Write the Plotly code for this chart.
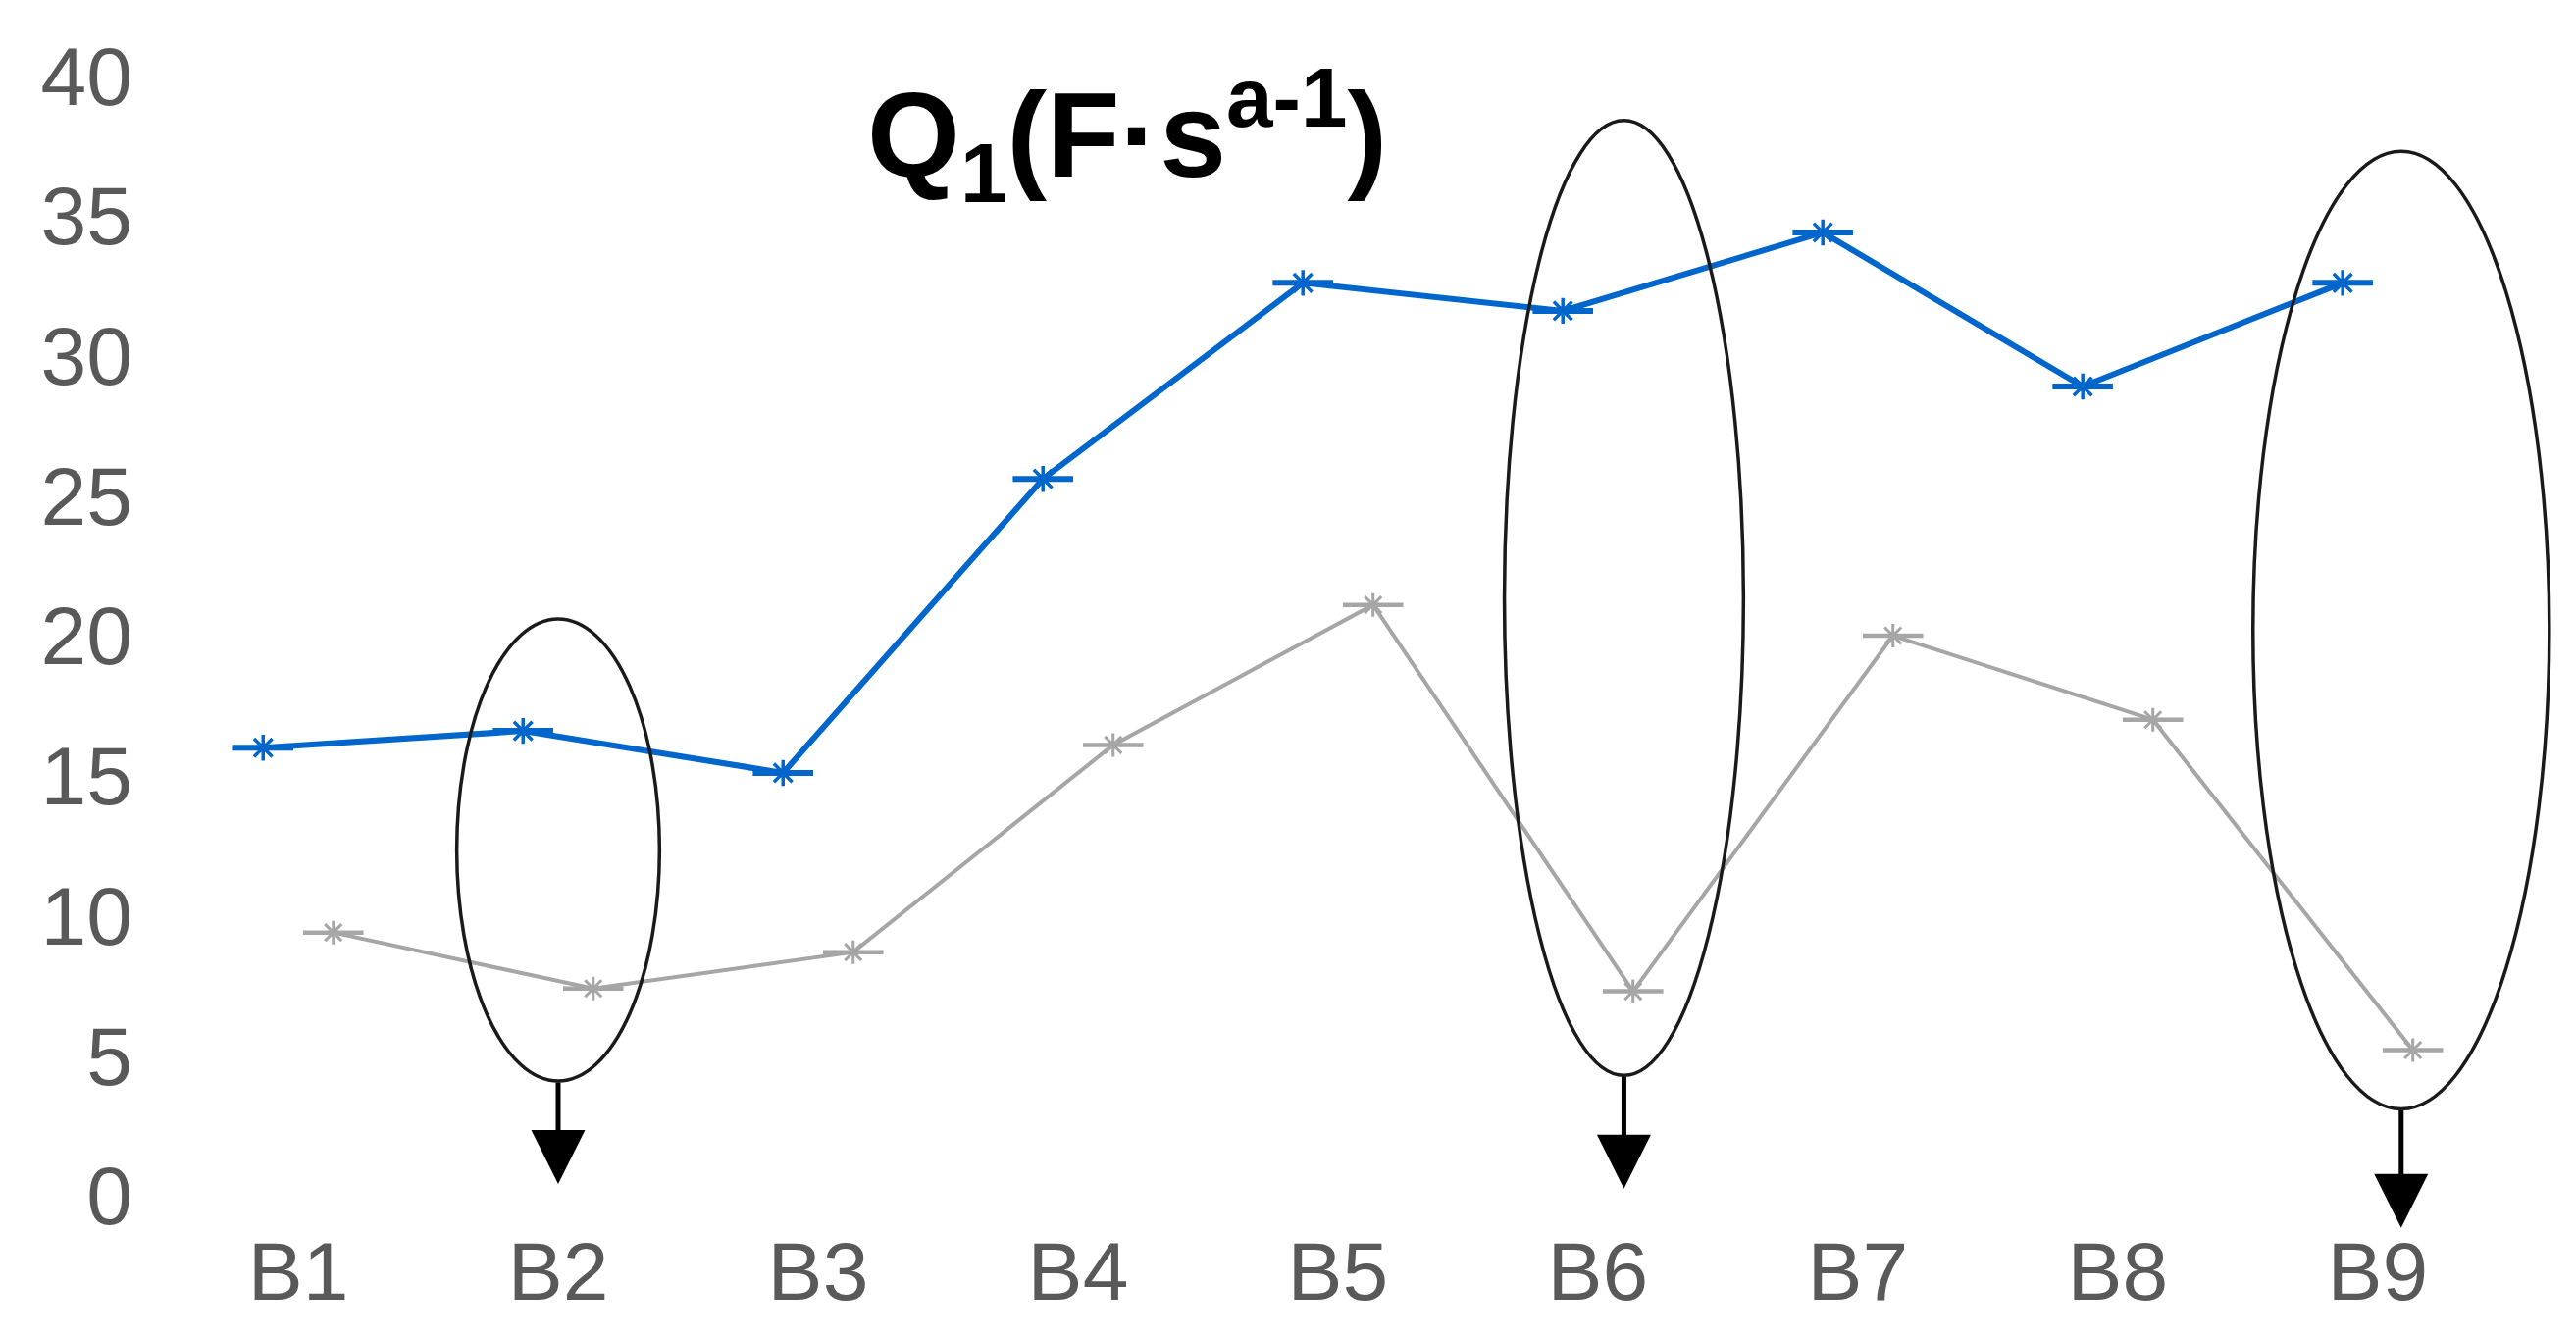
import plotly.graph_objects as go

# ---- data ----
categories = ["B1", "B2", "B3", "B4", "B5", "B6", "B7", "B8", "B9"]
blue_values = [16.0, 16.6, 15.1, 25.6, 32.6, 31.6, 34.4, 28.9, 32.6]
gray_values = [9.4, 7.4, 8.7, 16.1, 21.1, 7.3, 20.0, 17.0, 5.2]
y_ticks = [0, 5, 10, 15, 20, 25, 30, 35, 40]

# highlighted categories (ellipse + downward arrow)
hl_cats = ["B2", "B6", "B9"]
hl_shift = [0.0, 0.10, 0.09]       # horizontal shift of ellipse centre (category units)
hl_halfw = [0.39, 0.46, 0.57]      # ellipse half width (category units)
hl_top = [20.6, 38.4, 37.3]
hl_bottom = [4.1, 4.3, 3.1]
hl_tip = [0.42, 0.25, -1.15]

TICK_FONT = dict(family="Liberation Sans Narrow, Arial Narrow, Liberation Sans, sans-serif",
                 size=84, color="#595959")

BLUE = "#0066CC"
GRAY = "#A6A6A6"

fig = go.Figure()

# blue series
fig.add_trace(go.Scatter(x=categories, y=blue_values, mode="lines+markers",
                         offsetgroup="blue", line=dict(color=BLUE, width=6),
                         marker=dict(symbol="line-ew-open", size=44, color=BLUE,
                                     line=dict(color=BLUE, width=6)),
                         showlegend=False, cliponaxis=False))
fig.add_trace(go.Scatter(x=categories, y=blue_values, mode="markers",
                         offsetgroup="blue",
                         marker=dict(symbol="asterisk-open", size=22, color=BLUE,
                                     line=dict(color=BLUE, width=3.5)),
                         showlegend=False, cliponaxis=False))
# gray series
fig.add_trace(go.Scatter(x=categories, y=gray_values, mode="lines+markers",
                         offsetgroup="gray", line=dict(color=GRAY, width=4),
                         marker=dict(symbol="line-ew-open", size=44, color=GRAY,
                                     line=dict(color=GRAY, width=4.5)),
                         showlegend=False, cliponaxis=False))
fig.add_trace(go.Scatter(x=categories, y=gray_values, mode="markers",
                         offsetgroup="gray",
                         marker=dict(symbol="asterisk-open", size=20, color=GRAY,
                                     line=dict(color=GRAY, width=3)),
                         showlegend=False, cliponaxis=False))

# ellipses and arrows
for c, sh, hw, top, bot, tip in zip(hl_cats, hl_shift, hl_halfw, hl_top, hl_bottom, hl_tip):
    xc = categories.index(c) + sh
    fig.add_shape(type="circle", xref="x", yref="y",
                  x0=xc - hw, x1=xc + hw, y0=bot, y1=top,
                  line=dict(color="#1a1a1a", width=3.5), layer="above")
    fig.add_annotation(x=xc, y=tip, ax=xc, ay=bot, xref="x", yref="y",
                       axref="x", ayref="y", text="", showarrow=True,
                       arrowhead=2, arrowsize=2.2, arrowwidth=5,
                       arrowcolor="black", standoff=0)

# title
fig.add_annotation(xref="paper", yref="paper", x=0.402, y=0.918,
                   xanchor="center", yanchor="middle",
                   text="<b>Q<sub>1</sub>(F·s<sup>a-1</sup>)</b>",
                   showarrow=False,
                   font=dict(family="Liberation Sans, Arial, sans-serif",
                             size=122, color="black"))

fig.update_layout(
    width=2626, height=1363,
    margin=dict(l=150, r=10, t=32, b=139),
    paper_bgcolor="white", plot_bgcolor="white",
    scattermode="group", scattergap=0.46,
    showlegend=False,
)
fig.update_xaxes(type="category", categoryorder="array", categoryarray=categories,
                 range=[-0.551, 8.755], showgrid=False, zeroline=False,
                 showline=False, ticks="", tickfont=TICK_FONT,
                 ticklabelstandoff=8)
fig.update_yaxes(range=[-0.455, 41.30], tickvals=y_ticks, showgrid=False,
                 zeroline=False, showline=False, ticks="", tickfont=TICK_FONT,
                 ticklabelstandoff=22)

fig.write_html("out.html")
